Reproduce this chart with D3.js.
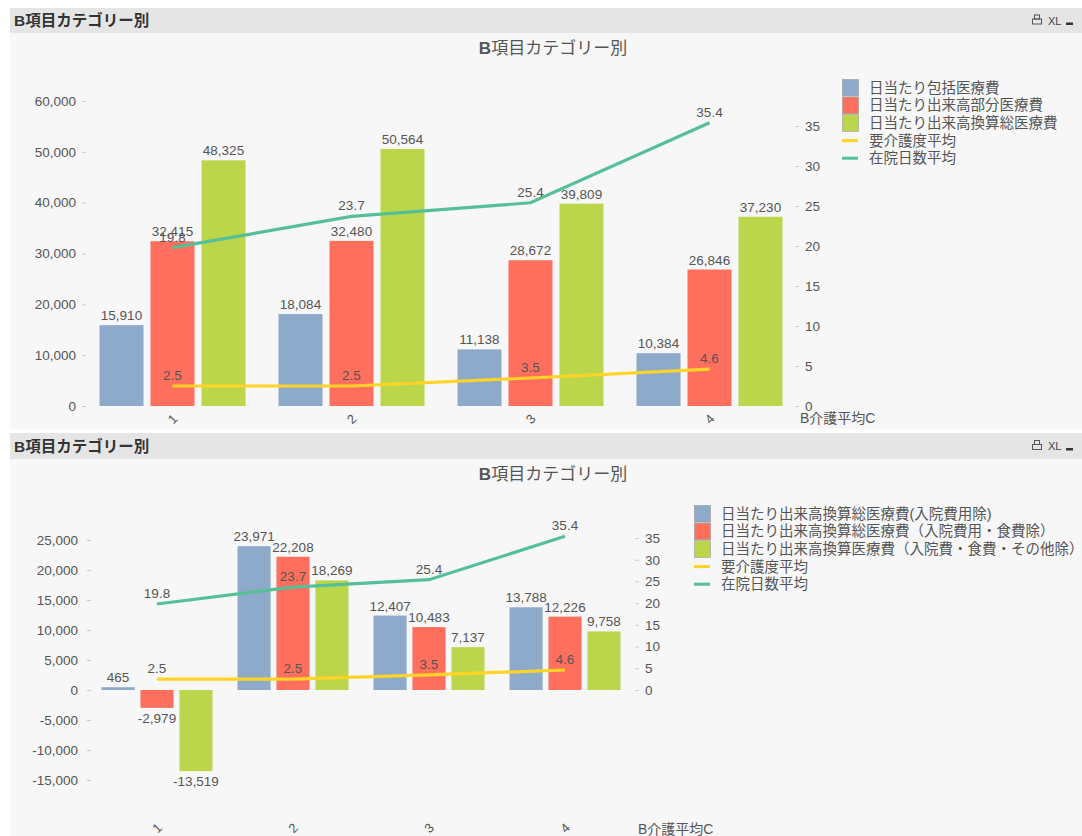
<!DOCTYPE html>
<html>
<head>
<meta charset="utf-8">
<script src="https://cdn.jsdelivr.net/npm/d3@7"></script>
<style>
  html, body { margin: 0; padding: 0; background: #ffffff; }
  svg { display: block; }
  text { font-family: "Liberation Sans", Arial, "Noto Sans CJK JP", sans-serif; }
</style>
</head>
<body>
<svg id="chart" width="1082" height="836"></svg>
<script>
// ---------------- DATA ----------------
const categories = ["1", "2", "3", "4"];
const axisTitle = "B介護平均C";
const panelTitle = "B項目カテゴリー別";

// Top chart
const topSeriesNames = ["日当たり包括医療費", "日当たり出来高部分医療費", "日当たり出来高換算総医療費"];
const topBlue  = [15910, 18084, 11138, 10384];
const topRed   = [32415, 32480, 28672, 26846];
const topGreen = [48325, 50564, 39809, 37230];
const topLeftTicks  = [0, 10000, 20000, 30000, 40000, 50000, 60000];

// Bottom chart
const botSeriesNames = ["日当たり出来高換算総医療費(入院費用除)", "日当たり出来高換算総医療費（入院費用・食費除）", "日当たり出来高換算医療費（入院費・食費・その他除）"];
const botBlue  = [465, 23971, 12407, 13788];
const botRed   = [-2979, 22208, 10483, 12226];
const botGreen = [-13519, 18269, 7137, 9758];
const botLeftTicks = [-15000, -10000, -5000, 0, 5000, 10000, 15000, 20000, 25000];

// Line series (shared by both charts)
const lineNames = ["要介護度平均", "在院日数平均"];
const kaigoAvg  = [2.5, 2.5, 3.5, 4.6];
const zaiinAvg  = [19.8, 23.7, 25.4, 35.4];
const rightTicks = [0, 5, 10, 15, 20, 25, 30, 35];

// ---------------- STYLE ----------------
const barColors = ["#8eaacb", "#fe6f5e", "#bcd64c"];
const lineColors = ["#ffd426", "#55c097"];
const labelColor = "#555555";
const fmtRaw = d3.format(",");
const fmt = d => fmtRaw(d).replace("\u2212", "-");

const svg = d3.select("#chart");

function panel(y0, y1, hdrH) {
  svg.append("rect").attr("x", 10).attr("y", y0).attr("width", 1072).attr("height", hdrH).attr("fill", "#e5e5e5");
  svg.append("rect").attr("x", 10).attr("y", y0 + hdrH).attr("width", 1072).attr("height", y1 - y0 - hdrH).attr("fill", "#f7f7f7");
  const t = svg.append("text").attr("x", 14).attr("y", y0 + hdrH / 2 + 5.5)
    .attr("font-size", 15.5).attr("font-weight", "bold").attr("fill", "#333");
  t.text(panelTitle);
  // icons
  const ix = 1033, iy = y0 + hdrH / 2;
  const ic = svg.append("g").attr("fill", "none").attr("stroke", "#555").attr("stroke-width", 1);
  ic.append("rect").attr("x", ix + 1.5).attr("y", iy - 5.5).attr("width", 5).attr("height", 4);
  ic.append("rect").attr("x", ix - 0.5).attr("y", iy - 1.5).attr("width", 9).attr("height", 5);
  svg.append("text").attr("x", 1048).attr("y", iy + 4).attr("font-size", 11).attr("fill", "#444")
    .attr("font-family", "Liberation Sans Narrow, Liberation Sans, Arial").text("XL");
  svg.append("rect").attr("x", 1066).attr("y", iy + 2).attr("width", 7).attr("height", 2.5).attr("fill", "#333");
}

function drawChart(cfg) {
  const g = svg.append("g");
  // title
  const tt = g.append("text").attr("x", 553).attr("y", cfg.titleY).attr("text-anchor", "middle")
    .attr("font-size", 17).attr("fill", "#555");
  tt.append("tspan").attr("font-weight", "bold").text(panelTitle.slice(0, 1));
  tt.append("tspan").text(panelTitle.slice(1));

  const x0 = d3.scaleBand().domain(categories).range(cfg.xRange).padding(0);
  const step = x0.bandwidth();
  const x1 = d3.scaleBand().domain([0, 1, 2]).range([cfg.outer, step - cfg.outer]).paddingInner(cfg.inner);
  const yL = d3.scaleLinear().domain(cfg.leftDomain).range(cfg.leftRange);
  const yR = d3.scaleLinear().domain([0, 35]).range(cfg.rightRange);

  // axes
  const axL = g.append("g").attr("transform", `translate(${cfg.leftAxisX},0)`)
    .call(d3.axisLeft(yL).tickValues(cfg.leftTicks).tickFormat(fmt).tickSize(4).tickPadding(cfg.leftPad));
  const axR = g.append("g").attr("transform", `translate(${cfg.rightAxisX},0)`)
    .call(d3.axisRight(yR).tickValues(rightTicks).tickSize(4).tickPadding(6));
  [axL, axR].forEach(a => {
    a.select(".domain").remove();
    a.selectAll(".tick line").attr("stroke", "#cccccc");
    a.selectAll(".tick text").attr("fill", "#555").attr("font-size", 13.5)
      .attr("font-family", "Liberation Sans, Arial, sans-serif");
  });

  // bars
  const seriesVals = cfg.series;
  const zeroY = yL(0);
  seriesVals.forEach((vals, si) => {
    g.selectAll(null).data(vals).enter().append("rect")
      .attr("x", (d, i) => x0(categories[i]) + x1(si))
      .attr("width", x1.bandwidth())
      .attr("y", d => Math.min(yL(d), zeroY))
      .attr("height", d => Math.max(Math.abs(yL(d) - zeroY), 2))
      .attr("fill", barColors[si]);
  });

  // lines
  const cx = c => x0(c) + step / 2;
  [kaigoAvg, zaiinAvg].forEach((vals, li) => {
    const line = d3.line().x((d, i) => cx(categories[i])).y(d => yR(d));
    g.append("path").datum(vals).attr("d", line).attr("fill", "none")
      .attr("stroke", lineColors[li]).attr("stroke-width", 3.2);
  });

  // bar labels
  seriesVals.forEach((vals, si) => {
    g.selectAll(null).data(vals).enter().append("text")
      .attr("x", (d, i) => x0(categories[i]) + x1(si) + x1.bandwidth() / 2)
      .attr("y", d => d >= 0 ? yL(d) - 5 : yL(d) + 15)
      .attr("text-anchor", "middle").attr("font-size", 13.5).attr("fill", labelColor)
      .text(d => fmt(d));
  });
  // line labels
  [kaigoAvg, zaiinAvg].forEach(vals => {
    g.selectAll(null).data(vals).enter().append("text")
      .attr("x", (d, i) => cx(categories[i]))
      .attr("y", d => yR(d) - 6)
      .attr("text-anchor", "middle").attr("font-size", 13.5).attr("fill", labelColor)
      .text(d => d3.format(".1f")(d));
  });

  // x labels (rotated)
  categories.forEach(c => {
    g.append("text").attr("transform", `translate(${cx(c)},${cfg.xLabelY}) rotate(-45)`)
      .attr("text-anchor", "middle").attr("dy", "0.35em").attr("font-size", 13).attr("fill", "#555")
      .text(c);
  });
  g.append("text").attr("x", cfg.axisTitleX).attr("y", cfg.axisTitleY).attr("font-size", 14).attr("fill", "#555")
    .text(axisTitle);

  // legend
  const lg = g.append("g").attr("transform", `translate(${cfg.legendX},${cfg.legendY})`);
  const rowH = 17.6;
  cfg.names.forEach((n, i) => {
    lg.append("rect").attr("x", 0.5).attr("y", i * rowH + 0.5).attr("width", 16).attr("height", rowH - 1)
      .attr("fill", barColors[i]).attr("stroke", "#999").attr("stroke-width", 0.6);
    lg.append("text").attr("x", 27).attr("y", i * rowH + rowH / 2 + 5).attr("font-size", 14.5).attr("fill", "#555")
      .attr("font-family", "Noto Sans CJK JP, sans-serif").text(n);
  });
  lineNames.forEach((n, j) => {
    const yy = (3 + j) * rowH + rowH / 2;
    lg.append("line").attr("x1", 0).attr("x2", 16).attr("y1", yy).attr("y2", yy)
      .attr("stroke", lineColors[j]).attr("stroke-width", 3);
    lg.append("text").attr("x", 27).attr("y", yy + 5).attr("font-size", 14.5).attr("fill", "#555")
      .attr("font-family", "Noto Sans CJK JP, sans-serif").text(n);
  });
}

// panels
panel(8, 429, 25);
panel(433, 836, 26);

drawChart({
  titleY: 54,
  xRange: [83, 799], outer: 16.5, inner: 0.137,
  leftDomain: [0, 60000], leftRange: [406, 101], leftTicks: topLeftTicks,
  rightRange: [406, 126],
  leftAxisX: 86, leftPad: 6, rightAxisX: 795,
  series: [topBlue, topRed, topGreen],
  xLabelY: 419, axisTitleX: 800, axisTitleY: 423,
  names: topSeriesNames, legendX: 842, legendY: 79
});

drawChart({
  titleY: 480,
  xRange: [89, 633], outer: 12.5, inner: 0.15,
  leftDomain: [-15000, 25000], leftRange: [780, 540], leftTicks: botLeftTicks,
  rightRange: [690, 538],
  leftAxisX: 91, leftPad: 9, rightAxisX: 635,
  series: [botBlue, botRed, botGreen],
  xLabelY: 828, axisTitleX: 638, axisTitleY: 834,
  names: botSeriesNames, legendX: 694, legendY: 505
});
</script>
</body>
</html>
